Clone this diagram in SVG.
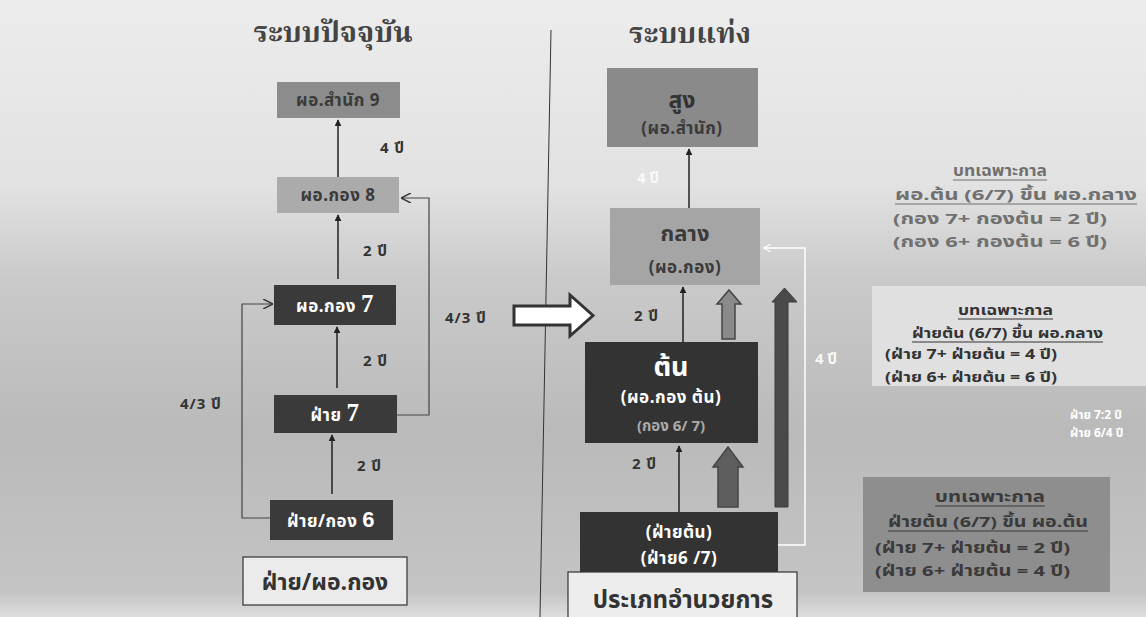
<svg xmlns="http://www.w3.org/2000/svg" width="1146" height="617" viewBox="0 0 1146 617">
<defs>
<linearGradient id="bg" x1="0" y1="0" x2="0" y2="1">
<stop offset="0" stop-color="#ececec"/>
<stop offset="0.3" stop-color="#e2e2e2"/>
<stop offset="0.45" stop-color="#cacaca"/>
<stop offset="0.7" stop-color="#bababa"/>
<stop offset="0.96" stop-color="#c4c4c4"/>
<stop offset="1" stop-color="#dedede"/>
</linearGradient>
<marker id="ah" viewBox="0 0 10 10" refX="9" refY="5" markerWidth="7" markerHeight="7" orient="auto" markerUnits="userSpaceOnUse">
<path d="M0,0 L10,5 L0,10 Z" fill="#222"/>
</marker>
<marker id="open" viewBox="0 0 10 10" refX="9" refY="5" markerWidth="10" markerHeight="10" orient="auto" markerUnits="userSpaceOnUse">
<path d="M0,0 L10,5 L0,10" fill="none" stroke="#333" stroke-width="1.5"/>
</marker>
<marker id="openw" viewBox="0 0 10 10" refX="9" refY="5" markerWidth="8" markerHeight="8" orient="auto" markerUnits="userSpaceOnUse">
<path d="M0,0 L10,5 L0,10" fill="none" stroke="#fff" stroke-width="1.5"/>
</marker>
<style>
text{font-family:"Noto Sans Thai","Noto Serif Thai","Tahoma","DejaVu Sans",sans-serif;}
.title{font-size:29px;font-weight:bold;fill:#444;font-family:"Noto Serif Thai","Noto Sans Thai","Liberation Serif",serif;}
.dk{fill:#3a3a3a;font-weight:bold;font-size:17px;letter-spacing:0.5px;}
.wt{fill:#fff;font-weight:bold;font-size:17px;letter-spacing:0.5px;}
.lbl{fill:#333;font-weight:bold;font-size:15px;letter-spacing:1px;}
.ln{stroke:#222;stroke-width:1.5;fill:none;}
.br{stroke:#444;stroke-width:1.2;fill:none;}
.ann1{fill:#707070;font-size:15px;font-weight:bold;}
.ann2{fill:#333;font-size:14px;font-weight:bold;}
.ann3{fill:#3a3a3a;font-size:15px;font-weight:bold;}
.u1{stroke:#707070;stroke-width:1.2;}
.u2{stroke:#333;stroke-width:1.1;}
.u3{stroke:#3a3a3a;stroke-width:1.2;}
</style>
</defs>
<rect x="0" y="0" width="1146" height="617" fill="url(#bg)"/>
<rect x="872" y="286" width="274" height="100" fill="#e0e0e0"/>
<line x1="551" y1="30" x2="540" y2="617" stroke="#333" stroke-width="1"/>

<text class="title" x="333" y="42" text-anchor="middle">ระบบปัจจุบัน</text>
<text class="title" x="690" y="43" text-anchor="middle">ระบบแท่ง</text>

<g id="connectors">
<line class="ln" x1="338" y1="177" x2="338" y2="120" marker-end="url(#ah)"/>
<line class="ln" x1="338" y1="279" x2="338" y2="215" marker-end="url(#ah)"/>
<line class="ln" x1="337" y1="388" x2="337" y2="327" marker-end="url(#ah)"/>
<line class="ln" x1="332" y1="494" x2="332" y2="435" marker-end="url(#ah)"/>
<polyline class="br" points="270,518 242,518 242,304 272,304" marker-end="url(#open)"/>
<polyline class="br" points="397,415 429,415 429,198 402,198" marker-end="url(#open)"/>
<line class="ln" x1="689" y1="208" x2="689" y2="149" marker-end="url(#ah)"/>
<line class="ln" x1="683" y1="342" x2="683" y2="287" marker-end="url(#ah)"/>
<line class="ln" x1="679" y1="512" x2="679" y2="446" marker-end="url(#ah)"/>
<polyline points="778,545 805,545 805,248 764,248" fill="none" stroke="#fff" stroke-width="1.5" marker-end="url(#openw)"/>
<path d="M514,306 L570,306 L570,295 L593,315.5 L570,336 L570,325 L514,325 Z" fill="#fff" stroke="#333" stroke-width="3" stroke-linejoin="miter"/>
<path d="M722,339 L722,304 L717,304 L729,290 L741,304 L735,304 L735,339 Z" fill="#8a8a8a" stroke="#444" stroke-width="1.5"/>
<path d="M718,507 L718,467 L713,467 L728,447 L743,467 L738,467 L738,507 Z" fill="#5e5e5e" stroke="#444" stroke-width="1.5"/>
<path d="M775,507 L775,302 L772,302 L784.5,288 L797,302 L788,302 L788,507 Z" fill="#4a4a4a" stroke="#3a3a3a" stroke-width="1"/>
</g>

<g id="labels">
<text class="lbl" x="380" y="153">4 ปี</text>
<text class="lbl" x="363" y="256">2 ปี</text>
<text class="lbl" x="363" y="366">2 ปี</text>
<text class="lbl" x="357" y="471">2 ปี</text>
<text class="lbl" x="180" y="409">4/3 ปี</text>
<text class="lbl" x="445" y="323">4/3 ปี</text>
<text class="lbl" x="634" y="321">2 ปี</text>
<text class="lbl" x="632" y="469">2 ปี</text>
<text x="637" y="183" fill="#fff" font-size="15" font-weight="bold" opacity="0.8">4 ปี</text>
<text x="815" y="364" fill="#fff" font-size="15" font-weight="bold" opacity="0.9">4 ปี</text>
</g>

<g id="n-director9">
<rect x="277" y="82" width="123" height="36" fill="#8c8c8c"/>
<text class="dk" x="338" y="106" text-anchor="middle">ผอ.สำนัก 9</text>
</g>
<g id="n-director8">
<rect x="277" y="177" width="122" height="36" fill="#ababab"/>
<text class="dk" x="338" y="201" text-anchor="middle">ผอ.กอง 8</text>
</g>
<g id="n-director7">
<rect x="274" y="285" width="122" height="40" fill="#3a3a3a"/>
<text class="wt" x="335" y="312" text-anchor="middle">ผอ.กอง <tspan font-size="25" font-family="Liberation Serif,serif">7</tspan></text>
</g>
<g id="n-section7">
<rect x="274" y="395" width="123" height="38" fill="#3a3a3a"/>
<text class="wt" x="335" y="421" text-anchor="middle">ฝ่าย <tspan font-size="25" font-family="Liberation Serif,serif">7</tspan></text>
</g>
<g id="n-section6">
<rect x="270" y="500" width="123" height="40" fill="#3a3a3a"/>
<text class="wt" x="331" y="527" text-anchor="middle">ฝ่าย/กอง <tspan font-size="22" font-family="Liberation Sans,sans-serif">6</tspan></text>
</g>
<g id="n-current-label">
<rect x="243" y="557" width="164" height="48" fill="#ebebeb" stroke="#333" stroke-width="1.2"/>
<text x="325" y="590" text-anchor="middle" fill="#333" font-size="23" font-weight="bold">ฝ่าย/ผอ.กอง</text>
</g>

<g id="n-high">
<rect x="607" y="68" width="151" height="79" fill="#8a8a8a"/>
<text x="682" y="108" text-anchor="middle" fill="#333" font-size="23" font-weight="bold">สูง</text>
<text class="dk" x="682" y="134" text-anchor="middle">(ผอ.สำนัก)</text>
</g>
<g id="n-mid">
<rect x="610" y="208" width="150" height="77" fill="#a5a5a5"/>
<text x="685" y="241" text-anchor="middle" fill="#3a3a3a" font-size="22" font-weight="bold">กลาง</text>
<text class="dk" x="685" y="273" text-anchor="middle">(ผอ.กอง)</text>
</g>
<g id="n-low">
<rect x="585" y="342" width="173" height="101" fill="#333"/>
<text x="671" y="376" text-anchor="middle" fill="#fff" font-size="27" font-weight="bold">ต้น</text>
<text class="wt" x="671" y="403" text-anchor="middle">(ผอ.กอง ต้น)</text>
<text x="671" y="431" text-anchor="middle" fill="#aaa" font-size="15" font-weight="bold">(กอง 6/ 7)</text>
</g>
<g id="n-section-low">
<rect x="580" y="512" width="198" height="63" fill="#333"/>
<text class="wt" x="679" y="538" text-anchor="middle">(ฝ่ายต้น)</text>
<text class="wt" x="679" y="564" text-anchor="middle">(ฝ่าย6 /7)</text>
</g>
<g id="n-new-label">
<rect x="568" y="572" width="229" height="50" fill="#ededed" stroke="#333" stroke-width="1.2"/>
<text x="683" y="608" text-anchor="middle" fill="#333" font-size="24" font-weight="bold" font-family="Noto Serif Thai,Noto Sans Thai,serif">ประเภทอำนวยการ</text>
</g>

<g id="n-note1">
<text class="ann1" x="953" y="176" textLength="94" lengthAdjust="spacingAndGlyphs">บทเฉพาะกาล</text>
<line class="u1" x1="953" y1="180" x2="1047" y2="180"/>
<text class="ann1" x="895" y="200" textLength="242" lengthAdjust="spacingAndGlyphs">ผอ.ต้น (6/7) ขึ้น ผอ.กลาง</text>
<line class="u1" x1="895" y1="204" x2="1137" y2="204"/>
<text class="ann1" x="893" y="224" textLength="214" lengthAdjust="spacingAndGlyphs">(กอง 7+ กองต้น  = 2 ปี)</text>
<text class="ann1" x="893" y="247" textLength="214" lengthAdjust="spacingAndGlyphs">(กอง 6+ กองต้น  = 6 ปี)</text>
</g>
<g id="n-note2">
<text class="ann2" x="958" y="315" textLength="95" lengthAdjust="spacingAndGlyphs">บทเฉพาะกาล</text>
<line class="u2" x1="958" y1="319" x2="1053" y2="319"/>
<text class="ann2" x="912" y="338" textLength="191" lengthAdjust="spacingAndGlyphs">ฝ่ายต้น (6/7) ขึ้น ผอ.กลาง</text>
<line class="u2" x1="912" y1="342" x2="1103" y2="342"/>
<text class="ann2" x="885" y="359" textLength="172" lengthAdjust="spacingAndGlyphs">(ฝ่าย 7+ ฝ่ายต้น  = 4 ปี)</text>
<text class="ann2" x="885" y="382" textLength="172" lengthAdjust="spacingAndGlyphs">(ฝ่าย 6+ ฝ่ายต้น  = 6 ปี)</text>
</g>
<g id="n-note-white">
<text x="1070" y="419" fill="#fff" font-size="12" font-weight="bold">ฝ่าย 7:2 ปี</text>
<text x="1070" y="437" fill="#fff" font-size="12" font-weight="bold">ฝ่าย 6/4 ปี</text>
</g>
<g id="n-note3">
<rect x="863" y="477" width="247" height="115" fill="#8e8e8e"/>
<text class="ann3" x="935" y="502" textLength="110" lengthAdjust="spacingAndGlyphs">บทเฉพาะกาล</text>
<line class="u3" x1="935" y1="506" x2="1045" y2="506"/>
<text class="ann3" x="888" y="527" textLength="200" lengthAdjust="spacingAndGlyphs">ฝ่ายต้น (6/7) ขึ้น ผอ.ต้น</text>
<line class="u3" x1="888" y1="531" x2="1088" y2="531"/>
<text class="ann3" x="875" y="553" textLength="195" lengthAdjust="spacingAndGlyphs">(ฝ่าย 7+ ฝ่ายต้น  = 2 ปี)</text>
<text class="ann3" x="875" y="576" textLength="195" lengthAdjust="spacingAndGlyphs">(ฝ่าย 6+ ฝ่ายต้น  = 4 ปี)</text>
</g>
</svg>
